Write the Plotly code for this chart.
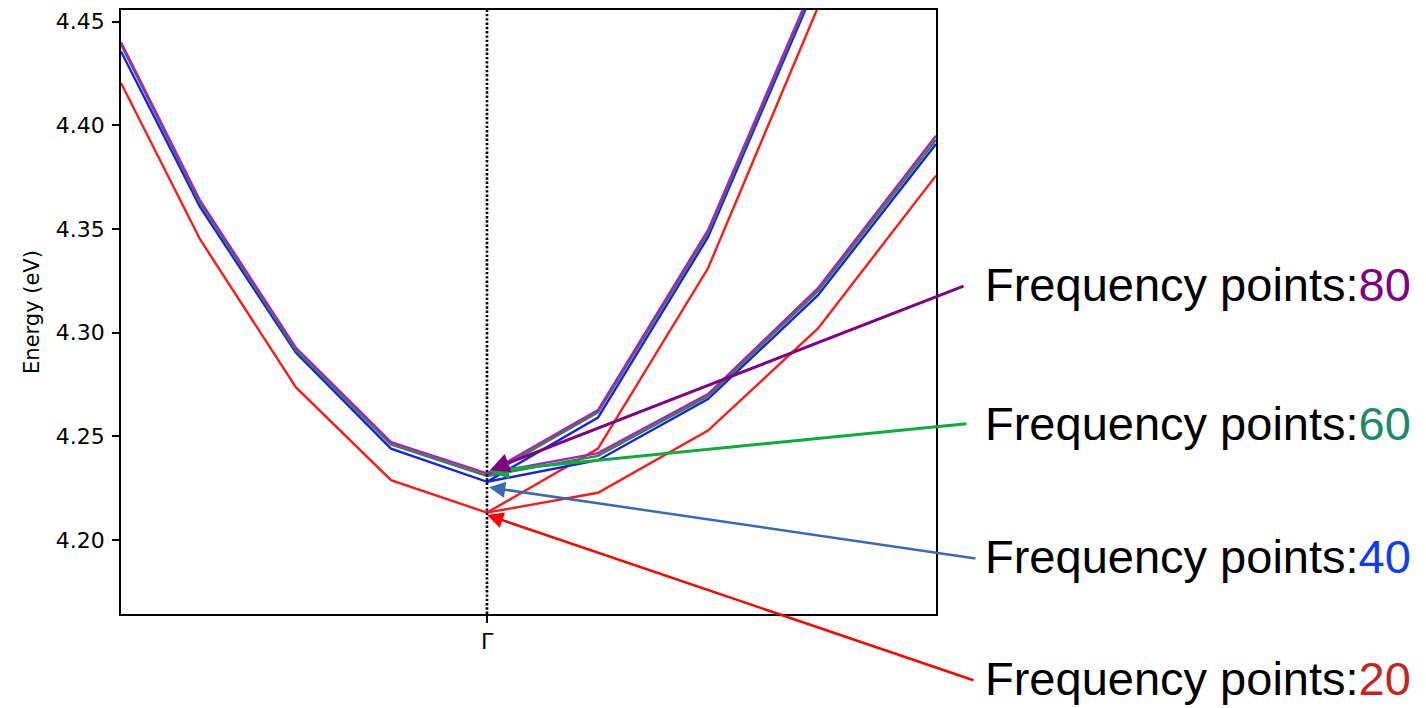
import plotly.graph_objects as go

# ---------------- data ----------------
# k-path coordinates (arbitrary units, Gamma = 0)
k_left = [-3.66, -2.87, -1.91, -0.96, 0.0]
k_right = [0.0, 1.11, 2.21, 3.31, 4.49]

series_names = ["20", "40", "60", "80"]
series_colors = ["#ff1a1a", "#1a1aff", "#2e8b2e", "#a423c4"]

# band energies (eV) per frequency-point setting
e20_left = [4.4204, 4.3450, 4.2735, 4.2288, 4.2131]
e20_upper = [4.2131, 4.2440, 4.3310, 4.4570, 4.6100]
e20_lower = [4.2131, 4.2227, 4.2527, 4.3020, 4.3757]

e40_left = [4.4356, 4.3606, 4.2902, 4.2440, 4.2280]
e40_upper = [4.2280, 4.2590, 4.3460, 4.4700, 4.6250]
e40_lower = [4.2280, 4.2384, 4.2679, 4.3180, 4.3909]

e60_left = [4.4390, 4.3625, 4.2915, 4.2460, 4.2308]
e60_upper = [4.2308, 4.2615, 4.3480, 4.4720, 4.6300]
e60_lower = [4.2308, 4.2405, 4.2692, 4.3200, 4.3930]

e80_left = [4.4400, 4.3637, 4.2926, 4.2471, 4.2320]
e80_upper = [4.2320, 4.2626, 4.3494, 4.4730, 4.6300]
e80_lower = [4.2320, 4.2418, 4.2703, 4.3214, 4.3949]

bands = {
    "20": (e20_left, e20_upper, e20_lower),
    "40": (e40_left, e40_upper, e40_lower),
    "60": (e60_left, e60_upper, e60_lower),
    "80": (e80_left, e80_upper, e80_lower),
}

y_ticks = [4.20, 4.25, 4.30, 4.35, 4.40, 4.45]
x_tick_vals = [0.0]
x_tick_text = ["Γ"]
x_range = [-3.66, 4.49]
y_range = [4.1642, 4.4556]

# annotation arrows: head (x, y) and tail (x, y) in data units
arrow_heads_x = [0.0, 0.02, 0.02, 0.03]
arrow_heads_y = [4.2120, 4.2253, 4.2331, 4.2336]
arrow_tails_x = [4.88, 4.90, 4.81, 4.78]
arrow_tails_y = [4.1320, 4.1909, 4.2561, 4.3227]
arrow_colors = ["#ff0000", "#3a6ab2", "#0aad3a", "#800080"]
arrow_widths = [2.5, 2.5, 3, 3]

label_prefix = "Frequency points:"
label_number_colors = ["#c8241f", "#0a3cff", "#1b8a6b", "#800080"]
label_y_paper = [-0.107, 0.0957, 0.315, 0.546]

# ---------------- figure ----------------
fig = go.Figure()

for name, color in zip(series_names, series_colors):
    left, upper, lower = bands[name]
    xs = k_left + k_right[1:] + [None] + k_right
    ys = left + upper[1:] + [None] + lower
    fig.add_trace(go.Scatter(
        x=xs, y=ys, mode="lines", name=name,
        line=dict(color=color, width=2.4),
        connectgaps=False, showlegend=False, hoverinfo="skip",
    ))

# Gamma dotted vertical line
fig.add_shape(type="line", xref="x", yref="paper", x0=x_tick_vals[0], x1=x_tick_vals[0],
              y0=0, y1=1, line=dict(color="black", width=2.6, dash="2.4px,1.9px"))

annotations = []
for hx, hy, tx, ty, c, w in zip(arrow_heads_x, arrow_heads_y, arrow_tails_x,
                                arrow_tails_y, arrow_colors, arrow_widths):
    annotations.append(dict(
        x=hx, y=hy, xref="x", yref="y", ax=tx, ay=ty, axref="x", ayref="y",
        text="", showarrow=True, arrowhead=2, arrowsize=1.3, arrowwidth=w,
        arrowcolor=c, standoff=0, startstandoff=0,
    ))

for name, c, yp in zip(series_names, label_number_colors, label_y_paper):
    annotations.append(dict(
        x=1.0577, y=yp, xref="paper", yref="paper", xanchor="left", yanchor="middle",
        showarrow=False,
        text=f"{label_prefix}<span style='color:{c}'>{name}</span>",
        font=dict(family="Liberation Sans, Arial", size=47, color="black"),
    ))

fig.update_layout(
    width=1418, height=700,
    margin=dict(l=113, r=490, t=0, b=94, pad=0),
    paper_bgcolor="white", plot_bgcolor="white",
    annotations=annotations,
    showlegend=False,
    font=dict(family="DejaVu Sans", size=21, color="black"),
)

fig.update_xaxes(
    range=x_range, tickvals=x_tick_vals, ticktext=x_tick_text,
    showgrid=False, zeroline=False, showline=True, mirror=True,
    linecolor="black", linewidth=1.6, ticks="outside", ticklen=7,
    tickwidth=1.5, tickcolor="black", tickfont=dict(size=22),
)
fig.update_yaxes(
    range=y_range, tickvals=y_ticks, tickformat=".2f",
    showgrid=False, zeroline=False, showline=True, mirror=True,
    linecolor="black", linewidth=1.6, ticks="outside", ticklen=7,
    tickwidth=1.5, tickcolor="black", tickfont=dict(size=22),
    ticklabelstandoff=3,
    title=dict(text="Energy (eV)", font=dict(size=21), standoff=10),
)

fig.write_html("out.html")
